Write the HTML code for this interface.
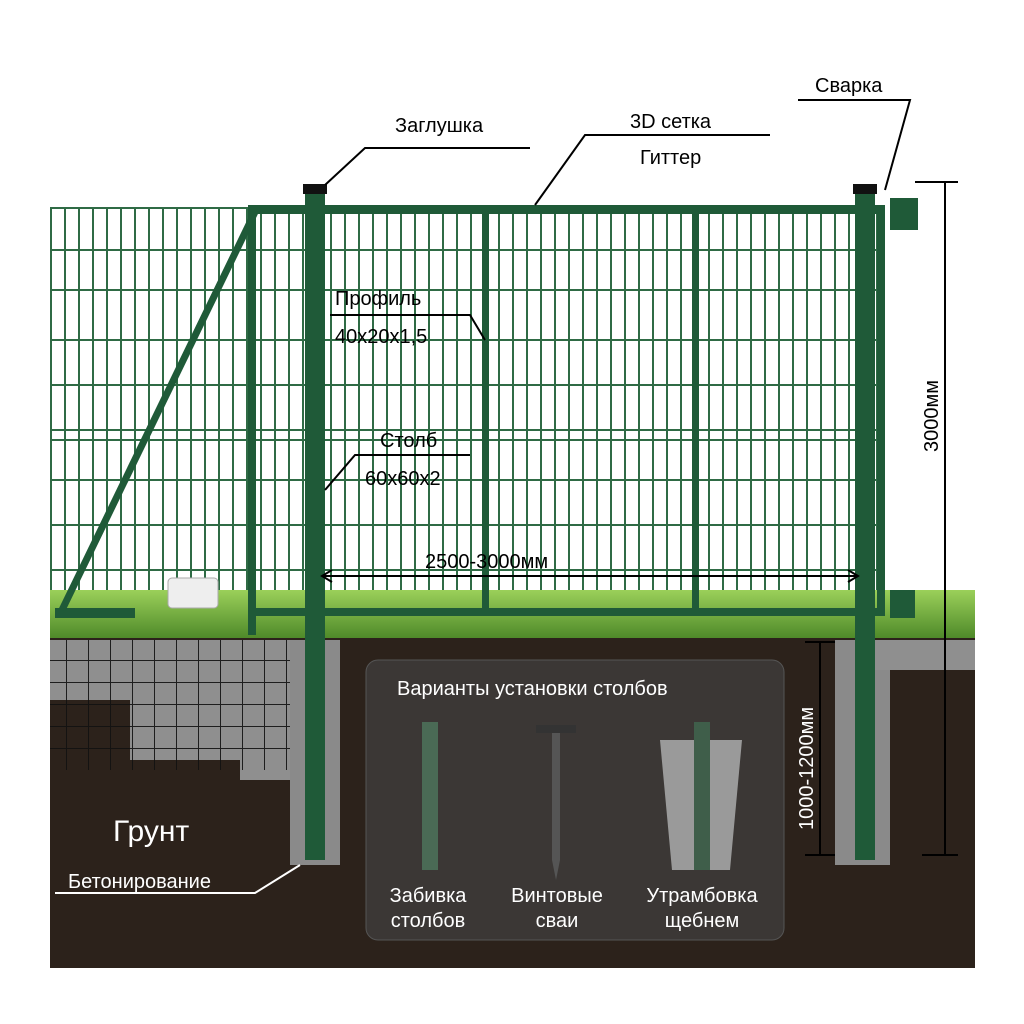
<!DOCTYPE html>
<html><head><meta charset="utf-8"><style>
body{margin:0;background:#fff;}
svg{display:block;font-family:"Liberation Sans",sans-serif;}
</style></head><body>
<svg width="1024" height="1024" viewBox="0 0 1024 1024" xmlns="http://www.w3.org/2000/svg">
<defs>
<pattern id="mesh" x="50" y="0" width="14" height="1000" patternUnits="userSpaceOnUse">
<rect x="0" y="0" width="2" height="1000" fill="#2f6b45"/>
</pattern>
<pattern id="grid" x="0" y="0" width="22" height="22" patternUnits="userSpaceOnUse">
<path d="M0 0H22M0 0V22" stroke="#111" stroke-width="2" fill="none"/>
</pattern>
<linearGradient id="grass" x1="0" y1="0" x2="0" y2="1">
<stop offset="0" stop-color="#9bd05a"/><stop offset="1" stop-color="#4f8a2a"/>
</linearGradient>
</defs>
<rect width="1024" height="1024" fill="#fff"/>
<!-- ground -->
<rect x="50" y="638" width="925" height="330" fill="#2c221b"/>
<!-- concrete left -->
<path d="M50 640H300V780H240V760H130V700H50Z" fill="#8f8f8f"/>
<rect x="50" y="640" width="250" height="130" fill="url(#grid)" opacity="0.9"/>
<rect x="290" y="640" width="50" height="225" fill="#8a8a8a"/>
<rect x="835" y="640" width="55" height="225" fill="#8a8a8a"/>
<rect x="875" y="640" width="100" height="30" fill="#8f8f8f"/>
<!-- mesh -->
<rect x="50" y="208" width="830" height="410" fill="url(#mesh)"/>
<g stroke="#2f6b45" stroke-width="2">
<line x1="50" y1="208" x2="880" y2="208"/>
<line x1="50" y1="250" x2="880" y2="250"/>
<line x1="50" y1="290" x2="880" y2="290"/>
<line x1="50" y1="340" x2="880" y2="340"/>
<line x1="50" y1="385" x2="880" y2="385"/>
<line x1="50" y1="430" x2="880" y2="430"/>
<line x1="50" y1="440" x2="880" y2="440"/>
<line x1="50" y1="480" x2="880" y2="480"/>
<line x1="50" y1="525" x2="880" y2="525"/>
<line x1="50" y1="570" x2="880" y2="570"/>
</g>
<!-- grass -->
<rect x="50" y="590" width="925" height="48" fill="url(#grass)"/>
<!-- gate frame -->
<g fill="#1f5a38">
<rect x="250" y="205" width="635" height="9"/>
<rect x="250" y="608" width="635" height="8"/>
<rect x="248" y="205" width="8" height="430"/>
<rect x="482" y="205" width="7" height="410"/>
<rect x="692" y="205" width="7" height="410"/>
<rect x="305" y="192" width="20" height="668"/>
<rect x="855" y="192" width="20" height="668"/>
<rect x="877" y="205" width="8" height="410"/>
<rect x="890" y="198" width="28" height="32"/>
<rect x="890" y="590" width="25" height="28"/>
<rect x="55" y="608" width="80" height="10"/>
</g>
<rect x="303" y="184" width="24" height="10" fill="#111"/>
<rect x="853" y="184" width="24" height="10" fill="#111"/>
<line x1="62" y1="610" x2="255" y2="212" stroke="#1f5a38" stroke-width="7"/>
<rect x="168" y="578" width="50" height="30" rx="4" fill="#eee" stroke="#aaa"/>
<!-- dims -->
<g stroke="#000" stroke-width="2" fill="none">
<path d="M325 185L365 148H530"/>
<path d="M535 205L585 135H770"/>
<path d="M798 100H910L885 190"/>
<path d="M330 315H470L485 340"/>
<path d="M325 490L355 455H470"/>
<line x1="322" y1="576" x2="858" y2="576"/>
<path d="M332 570L322 576L332 582M848 570L858 576L848 582"/>
<line x1="945" y1="182" x2="945" y2="855"/>
<line x1="915" y1="182" x2="958" y2="182"/>
<line x1="922" y1="855" x2="958" y2="855"/>
<line x1="820" y1="642" x2="820" y2="855"/>
<line x1="805" y1="642" x2="835" y2="642"/>
<line x1="805" y1="855" x2="835" y2="855"/>
</g>
<g stroke="#fff" stroke-width="2" fill="none">
<path d="M55 893H255L300 865"/>
</g>
<g font-size="20" fill="#000">
<text x="395" y="132">Заглушка</text>
<text x="630" y="128">3D сетка</text>
<text x="640" y="164">Гиттер</text>
<text x="815" y="92">Сварка</text>
<text x="335" y="305">Профиль</text>
<text x="335" y="343">40x20x1,5</text>
<text x="380" y="447">Столб</text>
<text x="365" y="485">60x60x2</text>
<text x="425" y="568">2500-3000мм</text>
<text transform="translate(938 452) rotate(-90)">3000мм</text>
</g>
<text transform="translate(813 830) rotate(-90)" font-size="20" fill="#fff">1000-1200мм</text>
<text x="113" y="841" font-size="30" fill="#fff">Грунт</text>
<text x="68" y="888" font-size="20" fill="#fff">Бетонирование</text>
<!-- inset -->
<rect x="366" y="660" width="418" height="280" rx="12" fill="#3b3735" stroke="#555"/>
<text x="397" y="695" font-size="20" fill="#fff">Варианты установки столбов</text>
<rect x="422" y="722" width="16" height="148" fill="#4a6a55"/>
<rect x="536" y="725" width="40" height="8" fill="#333"/>
<path d="M552 733H560V860L556 880L552 860Z" fill="#555"/>
<path d="M660 740H742L730 870H672Z" fill="#9a9a9a"/>
<rect x="694" y="722" width="16" height="148" fill="#3f5e4a"/>
<g font-size="20" fill="#fff" text-anchor="middle">
<text x="428" y="902">Забивка</text><text x="428" y="927">столбов</text>
<text x="557" y="902">Винтовые</text><text x="557" y="927">сваи</text>
<text x="702" y="902">Утрамбовка</text><text x="702" y="927">щебнем</text>
</g>
</svg>
</body></html>
